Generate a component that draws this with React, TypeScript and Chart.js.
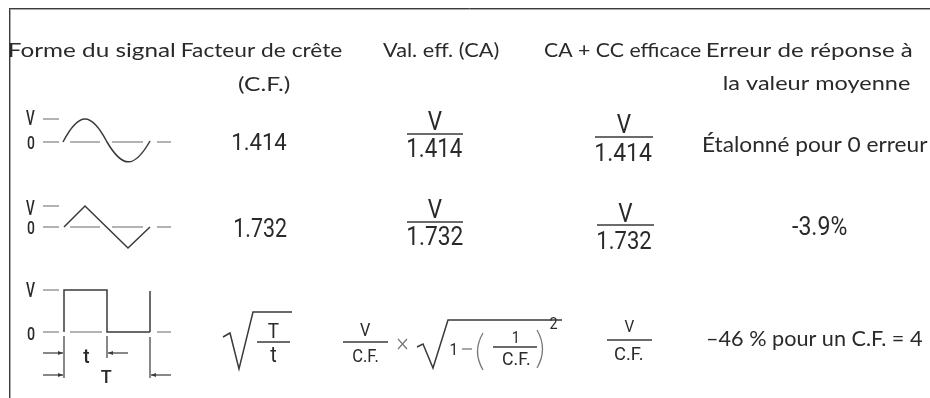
import React, { useEffect, useRef } from "react";
import { Chart, registerables } from "chart.js";

Chart.register(...registerables);

// ---------- data (texts of the table) ----------
const HEADER_LINE1 = ["Forme du signal", "Facteur de crête", "Val. eff. (CA)", "CA + CC efficace", "Erreur de réponse à"];
const HEADER_LINE2 = ["", "(C.F.)", "", "", "la valeur moyenne"];
const CREST_FACTORS = ["1.414", "1.732"];
const RMS_DENOMINATORS = ["1.414", "1.732"];
const AVG_ERRORS = ["Étalonné pour 0 erreur", "-3.9%", "–46 % pour un C.F. = 4"];
const AXIS_LABELS = ["V", "0"];
const PULSE_LABELS = ["t", "T"];
const CF = "C.F.";
const TRIANGLE_LEVELS = [0, 1, -1, 0];

const TEXT = "#2a2a2a";
const DARK = "#3a3a3a";
const LIGHT = "#9a9a9a";
const HEAD_FONT = "Lato, 'Noto Sans', sans-serif";
const NUM_FONT = "Roboto, 'DejaVu Sans', sans-serif";

const tablePlugin = {
  id: "tablePlugin",
  beforeDraw(chart: any) {
    const ctx = chart.ctx;
    ctx.save();
    ctx.fillStyle = "#ffffff";
    ctx.fillRect(0, 0, chart.width, chart.height);
    ctx.restore();
  },
  afterDraw(chart: any) {
    const ctx: CanvasRenderingContext2D = chart.ctx;
    const X = (v: number) => chart.scales.x.getPixelForValue(v);
    const Y = (v: number) => chart.scales.y.getPixelForValue(v);

    const line = (pts: number[][], color = DARK, w = 1.5) => {
      ctx.save();
      ctx.strokeStyle = color;
      ctx.lineWidth = w;
      ctx.lineJoin = "miter";
      ctx.beginPath();
      pts.forEach((p, i) => (i ? ctx.lineTo(X(p[0]), Y(p[1])) : ctx.moveTo(X(p[0]), Y(p[1]))));
      ctx.stroke();
      ctx.restore();
    };
    // text whose ink spans x0..x1
    const tx = (s: string, x0: number, x1: number, base: number, size: number, fam: string, color = TEXT, weight = "normal") => {
      ctx.save();
      ctx.font = `${weight} ${size}px ${fam}`;
      ctx.fillStyle = color;
      ctx.textAlign = "left";
      ctx.textBaseline = "alphabetic";
      const m = ctx.measureText(s);
      const ink = m.actualBoundingBoxLeft + m.actualBoundingBoxRight;
      const sx = (X(x1) - X(x0)) / ink;
      ctx.translate(X(x0) + m.actualBoundingBoxLeft * sx, Y(base));
      ctx.scale(sx, 1);
      ctx.fillText(s, 0, 0);
      ctx.restore();
    };
    // text centered at cx, condensed by sx
    const tc = (s: string, cx: number, base: number, size: number, fam: string, sx = 0.85, color = TEXT, weight = "normal") => {
      ctx.save();
      ctx.font = `${weight} ${size}px ${fam}`;
      ctx.fillStyle = color;
      ctx.textAlign = "left";
      ctx.textBaseline = "alphabetic";
      const m = ctx.measureText(s);
      const ink = m.actualBoundingBoxLeft + m.actualBoundingBoxRight;
      ctx.translate(X(cx) - (ink * sx) / 2 + m.actualBoundingBoxLeft * sx, Y(base));
      ctx.scale(sx, 1);
      ctx.fillText(s, 0, 0);
      ctx.restore();
    };
    const arrow = (xa: number, xb: number, y: number) => {
      line([[xa, y], [xb, y]], DARK, 1.2);
      const d = xb > xa ? -1 : 1;
      ctx.save();
      ctx.fillStyle = DARK;
      ctx.beginPath();
      ctx.moveTo(X(xb), Y(y));
      ctx.lineTo(X(xb + d * 5), Y(y - 2));
      ctx.lineTo(X(xb + d * 5), Y(y + 2));
      ctx.closePath();
      ctx.fill();
      ctx.restore();
    };
    const frac = (num: string, den: string, x0: number, x1: number, yBar: number, nBase: number, dBase: number,
                  nSize: number, dSize: number, dx0: number, dx1: number) => {
      tc(num, (x0 + x1) / 2, nBase, nSize, NUM_FONT, 0.9);
      line([[x0, yBar], [x1, yBar]], DARK, 1.6);
      tx(den, dx0, dx1, dBase, dSize, NUM_FONT);
    };

    // ----- border -----
    line([[9, 8.5], [930, 8.5]], "#3c3c3c", 1);
    line([[10, 9.5], [930, 9.5]], "#aaaaaa", 1);
    line([[9.5, 8], [9.5, 398]], "#3c3c3c", 1);
    line([[10.5, 10], [10.5, 398]], "#aaaaaa", 1);

    // ----- header -----
    const hs = 19.5;
    const h1 = [[9, 175], [182, 342], [383, 499], [544, 701], [707, 912]];
    HEADER_LINE1.forEach((s, i) => tx(s, h1[i][0], h1[i][1], 57, hs, HEAD_FONT));
    const h2: Record<number, number[]> = { 1: [238, 290, 91], 4: [724, 910, 90] };
    HEADER_LINE2.forEach((s, i) => {
      if (s) tx(s, h2[i][0], h2[i][1], h2[i][2], hs, HEAD_FONT);
    });

    // ----- waveform icons -----
    const dashes = (y: number, segs: number[][]) => segs.forEach((s) => line([[s[0], y], [s[1], y]], LIGHT, 1.5));
    // sine
    dashes(119, [[43, 59]]);
    dashes(142, [[43, 59], [70, 100], [112, 143], [157, 171]]);
    ctx.save();
    ctx.strokeStyle = DARK;
    ctx.lineWidth = 1.5;
    ctx.beginPath();
    ctx.moveTo(X(63), Y(142));
    ctx.bezierCurveTo(X(63 + 44 * 0.3642), Y(142 - 23 * 1.333), X(63 + 44 * 0.6358), Y(142 - 23 * 1.333), X(107), Y(142));
    ctx.bezierCurveTo(X(107 + 43 * 0.3642), Y(142 + 20 * 1.333), X(107 + 43 * 0.6358), Y(142 + 20 * 1.333), X(150), Y(141));
    ctx.stroke();
    ctx.restore();
    tx(AXIS_LABELS[0], 26, 35, 125, 19.5, NUM_FONT, TEXT, "500");
    tx(AXIS_LABELS[1], 27, 34.5, 148.5, 18.5, NUM_FONT, TEXT, "500");

    // triangle
    dashes(206, [[43, 59]]);
    dashes(227, [[43, 59], [70, 100], [112, 143], [157, 171]]);
    const triX = [64, 85, 128, 150];
    line(TRIANGLE_LEVELS.map((l, i) => [triX[i], 227 - 21 * l]), DARK, 1.5);
    tx(AXIS_LABELS[0], 26, 35, 215, 19.5, NUM_FONT, TEXT, "500");
    tx(AXIS_LABELS[1], 27, 34.5, 233.5, 18.5, NUM_FONT, TEXT, "500");

    // pulse
    dashes(290, [[43, 59]]);
    dashes(332, [[43, 59], [70, 102], [157, 171]]);
    line([[64, 332], [64, 290], [107, 290], [107, 332], [150, 332]], DARK, 1.5);
    line([[150, 291], [150, 332]], DARK, 1.5);
    line([[64, 336], [64, 378]], DARK, 1.2);
    line([[107, 336], [107, 358]], DARK, 1.2);
    line([[150, 337], [150, 378]], DARK, 1.2);
    arrow(43, 63, 353);
    arrow(128, 108, 353);
    arrow(43, 63, 375);
    arrow(171, 151, 375);
    tx(AXIS_LABELS[0], 26, 35.5, 297, 20.5, NUM_FONT, TEXT, "500");
    tx(AXIS_LABELS[1], 27, 34.5, 340, 19, NUM_FONT, TEXT, "500");
    tc(PULSE_LABELS[0], 86.5, 363, 20, NUM_FONT, 0.95, TEXT, "500");
    tc(PULSE_LABELS[1], 106.5, 383, 19, NUM_FONT, 0.95, TEXT, "500");

    // ----- crest factor column -----
    tx(CREST_FACTORS[0], 233, 287, 150, 24.5, NUM_FONT);
    tx(CREST_FACTORS[1], 235, 287, 237, 25, NUM_FONT);
    // sqrt(T/t)
    line([[223, 337], [230, 333], [239, 369], [253, 312], [292, 312]], DARK, 1.5);
    tc(PULSE_LABELS[1], 273.5, 338, 21, NUM_FONT, 0.9);
    line([[257, 342], [290, 342]], DARK, 1.5);
    tc(PULSE_LABELS[0], 273.5, 362, 22, NUM_FONT, 0.9);

    // ----- AC rms column -----
    frac("V", RMS_DENOMINATORS[0], 407, 463, 134, 130, 157, 25, 25.5, 408, 462);
    frac("V", RMS_DENOMINATORS[1], 407, 463, 222, 218, 245, 25, 25.5, 408, 463);
    // V/C.F. x sqrt(1-(1/C.F.)^2)
    frac("V", CF, 343, 388, 342, 336, 362, 18, 19, 353, 378);
    line([[398, 339], [407, 349]], "#777777", 1.2);
    line([[398, 349], [407, 339]], "#777777", 1.2);
    line([[417, 347], [423, 344], [433, 368], [448, 320], [562, 320]], DARK, 1.5);
    tc("1", 453, 355, 17, NUM_FONT, 0.9);
    line([[462, 349], [472, 349]], "#777777", 1.3);
    ctx.save();
    ctx.strokeStyle = "#777777";
    ctx.lineWidth = 1.3;
    ctx.beginPath();
    ctx.moveTo(X(483), Y(333));
    ctx.quadraticCurveTo(X(472), Y(351.5), X(483), Y(370));
    ctx.moveTo(X(537), Y(330));
    ctx.quadraticCurveTo(X(548), Y(349), X(537), Y(368));
    ctx.stroke();
    ctx.restore();
    frac("1", CF, 493, 537, 347, 343, 365, 16, 17.5, 503, 530);
    tc("2", 553.5, 329, 16, NUM_FONT, 0.9);

    // ----- AC+DC rms column -----
    frac("V", RMS_DENOMINATORS[0], 595, 653, 137, 133, 161, 25, 26.5, 596, 652);
    frac("V", RMS_DENOMINATORS[1], 597, 654, 225, 222, 249, 25, 26.5, 598, 651);
    frac("V", CF, 607, 652, 340, 332, 360, 17, 17.5, 615, 643);

    // ----- average error column -----
    tx(AVG_ERRORS[0], 703, 928, 152, 20.7, HEAD_FONT);
    tx(AVG_ERRORS[1], 792, 847, 235, 25, NUM_FONT);
    tx(AVG_ERRORS[2], 707, 922, 346, 21.5, HEAD_FONT);
  },
};

export default function App() {
  const ref = useRef<HTMLCanvasElement | null>(null);
  useEffect(() => {
    document.body.style.margin = "0";
    if (!ref.current) return;
    const chart = new Chart(ref.current, {
      type: "scatter",
      data: { datasets: [{ data: [], showLine: false }] },
      options: {
        responsive: false,
        animation: false,
        devicePixelRatio: 1,
        layout: { padding: 0 },
        plugins: { legend: { display: false }, tooltip: { enabled: false } },
        scales: {
          x: { type: "linear", min: 0, max: 930, display: false },
          y: { type: "linear", min: 0, max: 398, reverse: true, display: false },
        },
      },
      plugins: [tablePlugin],
    });
    return () => chart.destroy();
  }, []);
  return (
    <div style={{ position: "fixed", left: 0, top: 0, width: 930, height: 398, background: "#fff" }}>
      <canvas ref={ref} width={930} height={398} style={{ display: "block" }} />
    </div>
  );
}
